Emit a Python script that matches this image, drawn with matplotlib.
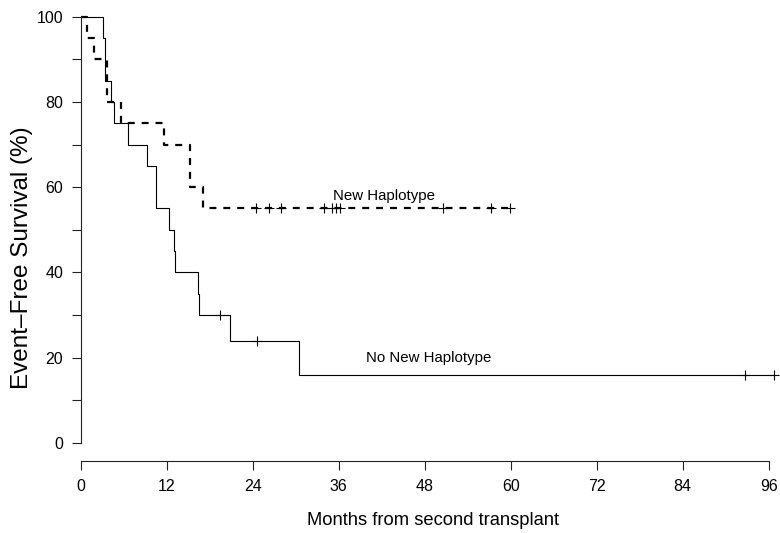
import matplotlib
matplotlib.use("Agg")
import matplotlib.pyplot as plt

plt.rcParams['font.family'] = ['Liberation Sans', 'DejaVu Sans']
plt.rcParams['lines.scale_dashes'] = False

# Kaplan-Meier steps (months, % event-free)
no_new_times = [0, 3.15, 3.35, 4.2, 4.7, 6.55, 9.3, 10.45, 12.35, 13.05, 13.2, 16.4, 16.5, 20.9, 30.45]
no_new_surv = [100, 95, 85, 80, 75, 70, 65, 55, 50, 45, 40, 35, 30, 23.8, 15.9]
no_new_end = 96.7
no_new_censor = [19.4, 24.6, 92.7, 96.7]

new_times = [0, 0.9, 1.8, 3.7, 5.6, 11.65, 15.3, 17.1]
new_surv = [100, 95, 90, 80, 75, 70, 60, 55]
new_end = 59.9
new_censor = [24.5, 26.3, 27.9, 33.9, 35.1, 35.6, 36.2, 50.5, 57.2, 59.9]

x_ticks = [0, 12, 24, 36, 48, 60, 72, 84, 96]
y_ticks = [0, 20, 40, 60, 80, 100]
y_minor = [10, 30, 50, 70, 90]


def surv_at(times, surv, t):
    val = surv[0]
    for tt, s in zip(times, surv):
        if tt <= t:
            val = s
    return val


W, H = 780, 533
fig = plt.figure(figsize=(W / 100, H / 100), dpi=100)
ax = fig.add_axes([80.7 / W, 72.3 / H, (W - 80.7) / W, 460.7 / H])

# solid curve: no new haplotype
ax.step(no_new_times + [no_new_end], no_new_surv + [no_new_surv[-1]], where='post',
        color='black', lw=0.8, clip_on=False)
ax.plot(no_new_censor, [surv_at(no_new_times, no_new_surv, t) for t in no_new_censor],
        ls='none', marker='+', ms=7.5, mew=0.8, color='black', clip_on=False)

# dashed curve: new haplotype
ax.step(new_times + [new_end], new_surv + [new_surv[-1]], where='post',
        color='black', lw=1.6, dashes=(5, 5), clip_on=False)
ax.plot(new_censor, [surv_at(new_times, new_surv, t) for t in new_censor],
        ls='none', marker='+', ms=7.5, mew=0.8, color='black', clip_on=False)

ax.text(35.2, 57.0, 'New Haplotype', fontsize=10.8, ha='left', va='baseline')
ax.text(39.75, 19.0, 'No New Haplotype', fontsize=10.8, ha='left', va='baseline')

ax.set_xlim(0, 97.57)
ax.set_ylim(-4.22, 103.92)

for s in ['top', 'right']:
    ax.spines[s].set_visible(False)
ax.spines['left'].set_bounds(0, 100)
ax.spines['bottom'].set_bounds(0, 96)
for s in ['left', 'bottom']:
    ax.spines[s].set_linewidth(0.8)
    ax.spines[s].set_color('#222222')

ax.set_xticks(x_ticks)
ax.set_yticks(y_ticks)
ax.set_yticks(y_minor, minor=True)
ax.tick_params(axis='both', which='both', direction='out', length=6.5, width=0.8,
               color='#222222', labelsize=11.5)
ax.tick_params(axis='x', pad=7)
ax.tick_params(axis='y', pad=6)
ax.patch.set_alpha(0)

fig.text(433 / W, 1 - 525 / H, 'Months from second transplant', fontsize=13.2,
         ha='center', va='baseline')
fig.text(22 / W, 1 - 257.5 / H, 'Event\u2013Free Survival (%)', fontsize=17.5,
         ha='center', va='center', rotation=90)

fig.savefig('out.png', dpi=100)
